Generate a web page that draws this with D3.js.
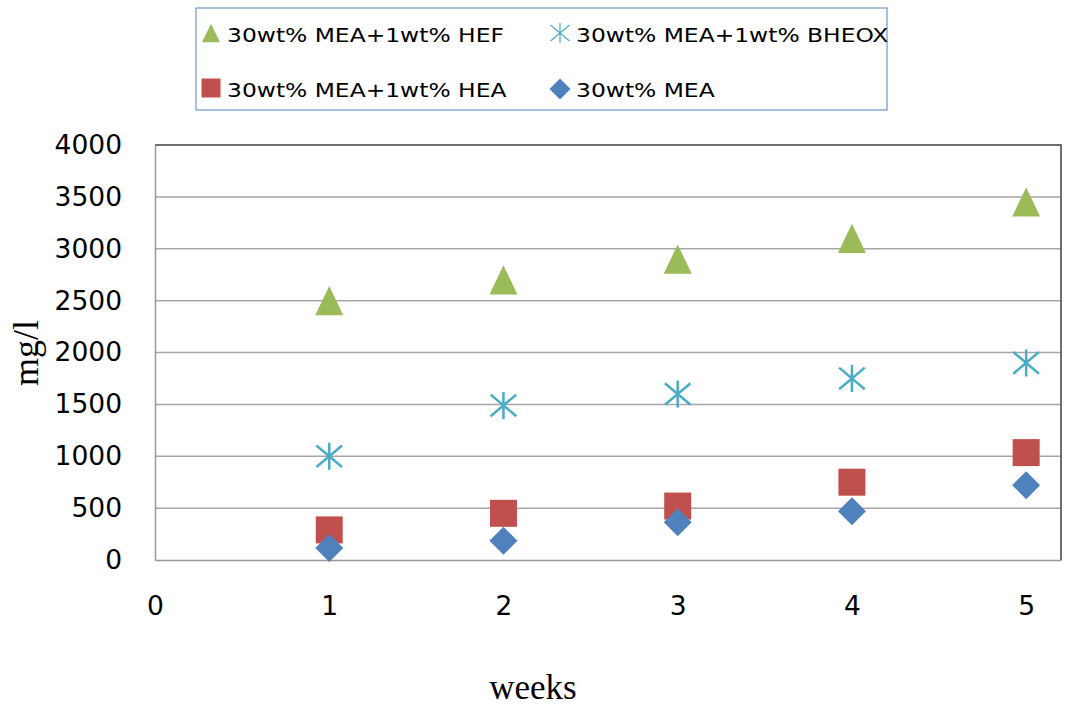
<!DOCTYPE html>
<html><head><meta charset="utf-8">
<script src="https://cdn.jsdelivr.net/npm/d3@7"></script>
<style>body{margin:0;background:#fff}svg{display:block}</style>
</head><body>
<svg id="c" width="1065" height="709"></svg>
<script>
const weeks = [1, 2, 3, 4, 5];
const hef   = [2500, 2700, 2900, 3100, 3450];
const bheox = [1000, 1490, 1600, 1750, 1900];
const hea   = [290, 450, 520, 750, 1035];
const mea   = [115, 186, 365, 470, 721];
const xTicks = [0, 1, 2, 3, 4, 5];
const yTicks = [0, 500, 1000, 1500, 2000, 2500, 3000, 3500, 4000];
const seriesNames = ["30wt% MEA+1wt% HEF", "30wt% MEA+1wt% BHEOX", "30wt% MEA+1wt% HEA", "30wt% MEA"];

const svg = d3.select("#c");
const L = 155, R = 1061, T = 145, B = 560;
const x = d3.scaleLinear().domain([0, 5.2]).range([L, R]);
const y = d3.scaleLinear().domain([0, 4000]).range([B, T]);

const font = "'DejaVu Sans', Verdana, sans-serif";
const serif = "'Liberation Serif', 'Times New Roman', serif";

// gridlines
svg.append("g").selectAll("line").data(yTicks.filter(d => d > 0 && d < 4000)).join("line")
  .attr("x1", L).attr("x2", R).attr("y1", d => y(d)).attr("y2", d => y(d))
  .attr("stroke", "#a6a6a6").attr("stroke-width", 1.5);

// plot border top/right
svg.append("path").attr("d", `M${L},${T}H${R}V${B}`).attr("fill", "none")
  .attr("stroke", "#404040").attr("stroke-width", 1.5);

// axes
const yAxis = d3.axisLeft(y).tickValues(yTicks).tickSize(0).tickPadding(33).tickFormat(d3.format("d"));
const gy = svg.append("g").attr("transform", `translate(${L},0)`).call(yAxis);
gy.select(".domain").attr("stroke", "#999").attr("stroke-width", 1.5);
gy.selectAll("text").attr("font-family", font).attr("font-size", 26.5).attr("fill", "#000");

const xAxis = d3.axisBottom(x).tickValues(xTicks).tickSize(0).tickPadding(36).tickFormat(d3.format("d"));
const gx = svg.append("g").attr("transform", `translate(0,${B})`).call(xAxis);
gx.select(".domain").attr("stroke", "#999").attr("stroke-width", 1.5);
gx.selectAll("text").attr("font-family", font).attr("font-size", 26.5).attr("fill", "#000");

// axis titles
svg.append("text").attr("x", 533).attr("y", 699).attr("text-anchor", "middle")
  .attr("font-family", serif).attr("font-size", 35).text("weeks");
svg.append("text").attr("transform", "translate(38,353) rotate(-90)").attr("text-anchor", "middle")
  .attr("font-family", serif).attr("font-size", 36).text("mg/l");

// marker shapes (relative to centre)
function tri(s){ const h = s*1.04; return `M0,${-h/2}L${s/2},${h/2}L${-s/2},${h/2}Z`; }
function sq(s){ return `M${-s/2},${-s/2}h${s}v${s}h${-s}Z`; }
function dia(s){ return `M0,${-s/2}L${s/2},0L0,${s/2}L${-s/2},0Z`; }
function star(s){ const a = s/2, b = s/2*0.95, c = s/2*0.8;
  return `M0,${-a}V${a}M${-b},${-c}L${b},${c}M${-b},${c}L${b},${-c}`; }

const series = [
  {name: seriesNames[0], vals: hef,   color: "#9BBB59", shape: tri,  size: 28, fill: true},
  {name: seriesNames[1], vals: bheox, color: "#4BACC6", shape: star, size: 27, fill: false},
  {name: seriesNames[2], vals: hea,   color: "#C0504D", shape: sq,   size: 27, fill: true},
  {name: seriesNames[3], vals: mea,   color: "#4F81BD", shape: dia,  size: 28, fill: true}
];
series.forEach(s => {
  svg.append("g").selectAll("path").data(weeks.map((w, i) => [w, s.vals[i]])).join("path")
    .attr("transform", d => `translate(${x(d[0])},${y(d[1])})`)
    .attr("d", s.shape(s.size))
    .attr("fill", s.fill ? s.color : "none")
    .attr("stroke", s.color).attr("stroke-width", s.fill ? 0 : 2.5);
});

// legend
svg.append("rect").attr("x", 196).attr("y", 8).attr("width", 691).attr("height", 102)
  .attr("fill", "#fff").attr("stroke", "#4F81BD").attr("stroke-width", 1);
const legPos = [[211, 33], [560, 33], [211, 88], [560, 89]];
const legBase = [42, 42, 97, 97];
const legSize = [18, 20, 19, 21];
series.forEach((s, i) => {
  const [lx, ly] = legPos[i];
  svg.append("path").attr("transform", `translate(${lx},${ly})`).attr("d", s.shape(legSize[i]))
    .attr("fill", s.fill ? s.color : "none").attr("stroke", s.color).attr("stroke-width", s.fill ? 0 : 1.2);
  svg.append("text").attr("transform", `translate(${lx + 16},${legBase[i]}) scale(1.17,1)`)
    .attr("font-family", font).attr("font-size", 20).attr("fill", "#000").text(s.name);
});
</script>
</body></html>
